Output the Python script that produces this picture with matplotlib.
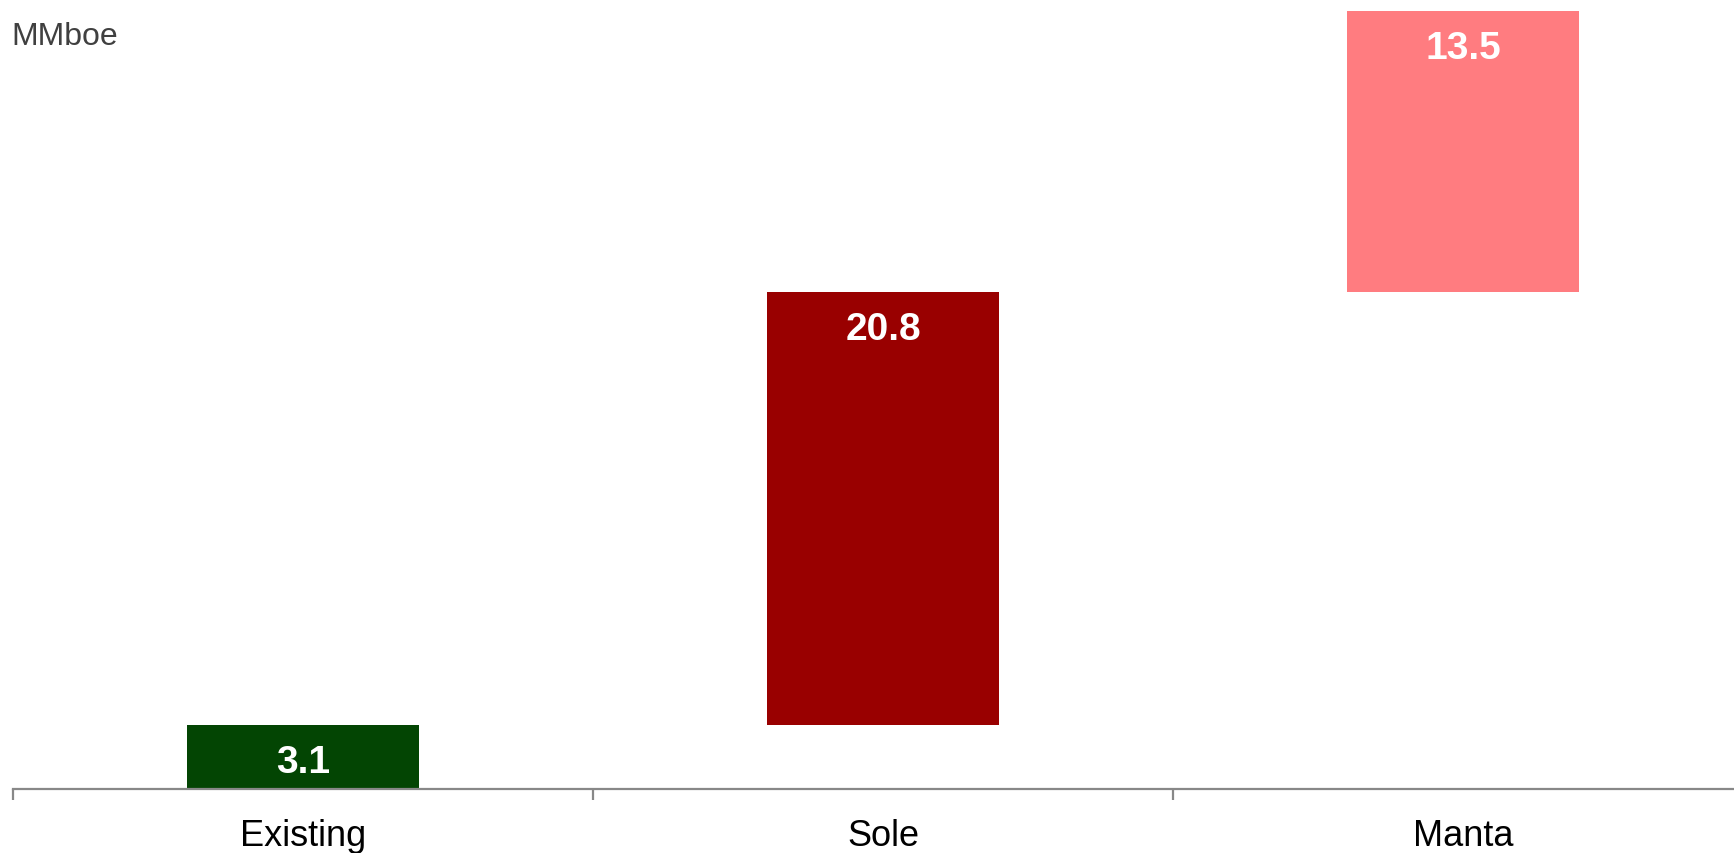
import numpy as np
import matplotlib
matplotlib.use("Agg")
import matplotlib.pyplot as plt
from matplotlib import font_manager

categories = ["Existing", "Sole", "Manta"]
values = [3.1, 20.8, 13.5]
colors = ["#034503", "#990000", "#FF7C80"]
unit_label = "MMboe"

names = {f.name for f in font_manager.fontManager.ttflist}
narrow = "Liberation Sans Narrow" if "Liberation Sans Narrow" in names else "Liberation Sans"

W, H = 1734, 854
fig = plt.figure(figsize=(W / 100, H / 100), dpi=100)
left_px, right_px, base_px, top_px = 13, 1734, 790, 12
ax = fig.add_axes([left_px / W, (H - base_px) / H,
                   (right_px - left_px) / W, (base_px - top_px) / H])

# waterfall: each bar starts where the previous one ended
bottoms = np.concatenate([[0], np.cumsum(values)[:-1]])
x = np.arange(len(categories))
ax.bar(x, values, bottom=bottoms, width=0.4, color=colors, linewidth=0)

for xi, v, b in zip(x, values, bottoms):
    ax.annotate(f"{v:.1f}", xy=(xi, b + v), xytext=(0, -34),
                textcoords="offset points", ha="center", va="baseline",
                color="white", fontsize=28, fontweight="bold",
                family="Liberation Sans")

# category names below the axis
for xi, name in zip(x, categories):
    ax.annotate(name, xy=(xi, 0), xycoords=("data", "axes fraction"),
                xytext=(0, -40), textcoords="offset points",
                ha="center", va="baseline", fontsize=26,
                family="Liberation Sans", color="black",
                annotation_clip=False)

for s in ["top", "right", "left"]:
    ax.spines[s].set_visible(False)
ax.spines["bottom"].set_color("#888888")
ax.spines["bottom"].set_linewidth(1.6)
ax.set_yticks([])
ax.set_xticks(np.arange(len(categories) + 1) - 0.5)
ax.set_xticklabels([])
ax.tick_params(axis="x", length=8, width=1.6, color="#888888")

ax.set_xlim(-0.5, -0.5 + (right_px - left_px) / 580)
ax.set_ylim(0, sum(values))

fig.text(11 / W, 1 - 45 / H, unit_label, ha="left", va="baseline",
         fontsize=23, family=narrow, color="#404040")

fig.savefig("out.png", dpi=100)
